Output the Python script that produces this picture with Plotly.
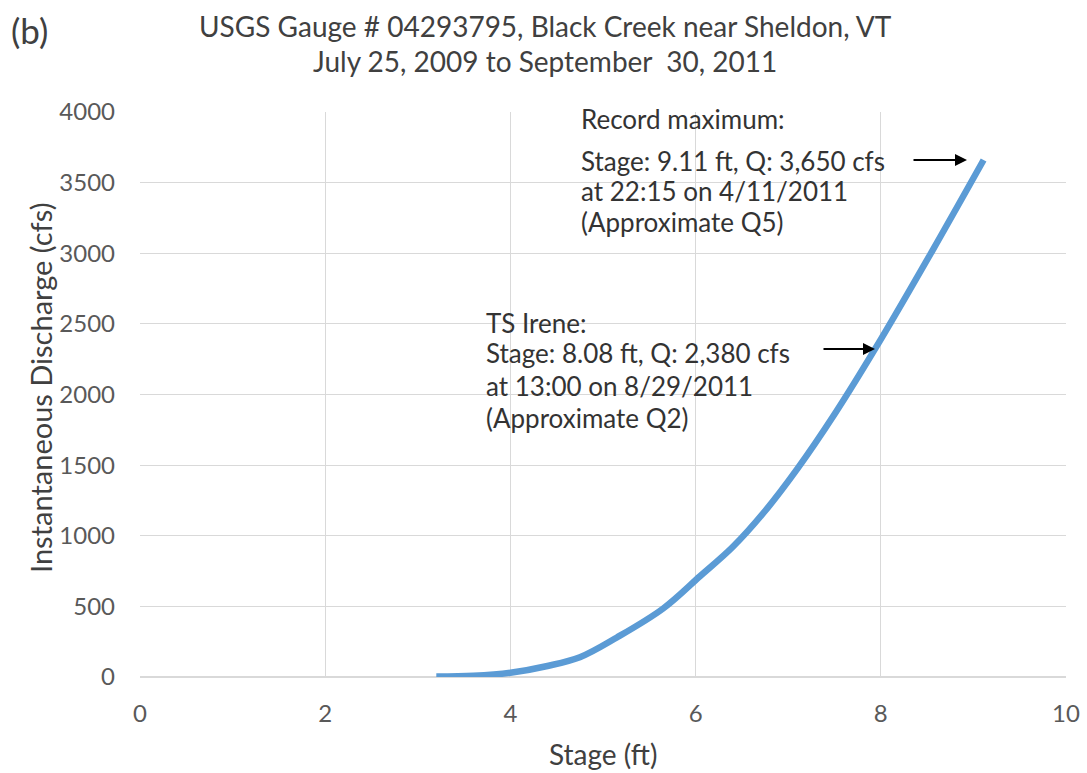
import plotly.graph_objects as go

stage_ft = [3.2, 3.6, 4.0, 4.4, 4.75, 5.15, 5.65, 6.05, 6.4, 6.75, 7.1, 7.5, 8.0, 8.55, 9.11]
discharge_cfs = [3, 8, 30, 78, 140, 280, 485, 715, 920, 1175, 1475, 1860, 2390, 3010, 3660]

panel_label = "(b)"
title_lines = ["USGS Gauge # 04293795, Black Creek near Sheldon, VT",
               "July 25, 2009 to September  30, 2011"]
max_lines = ["Record maximum:", "Stage: 9.11 ft, Q: 3,650 cfs",
             "at 22:15 on 4/11/2011", "(Approximate Q5)"]
irene_lines = ["TS Irene:", "Stage: 8.08 ft, Q: 2,380 cfs",
               "at 13:00 on 8/29/2011", "(Approximate Q2)"]
x_title = "Stage (ft)"
y_title = "Instantaneous Discharge (cfs)"

FONT = "Lato"
TICK = "#595959"
TXT = "#333333"

# plot area in pixels
L, R, T, B = 140, 1066, 112, 677
W, H = 1087, 773


def px(xp):
    return (xp - L) / (R - L)


def py(yp):
    return (B - yp) / (B - T)


fig = go.Figure()
fig.add_trace(go.Scatter(x=stage_ft, y=discharge_cfs, mode="lines",
                         line=dict(color="#5b9bd5", width=6.5, shape="spline", smoothing=1.0),
                         showlegend=False, hoverinfo="x+y"))

ann = []
for t, yp in zip(title_lines, [26, 61]):
    ann.append(dict(text=t, xref="paper", yref="paper", x=px(545), y=py(yp),
                    xanchor="center", yanchor="middle", showarrow=False,
                    font=dict(family=FONT, size=28, color="#404040")))
ann.append(dict(text=panel_label, xref="paper", yref="paper", x=px(9), y=py(30),
                xanchor="left", yanchor="middle", showarrow=False,
                font=dict(family=FONT, size=35, color="#404040")))

for t, yp in zip(max_lines, [119, 161, 191, 222]):
    ann.append(dict(text=t, xref="paper", yref="paper", x=px(579), y=py(yp),
                    xanchor="left", yanchor="middle", showarrow=False,
                    font=dict(family=FONT, size=26, color=TXT)))
for t, yp in zip(irene_lines, [323, 353, 386, 418]):
    ann.append(dict(text=t, xref="paper", yref="paper", x=px(484), y=py(yp),
                    xanchor="left", yanchor="middle", showarrow=False,
                    font=dict(family=FONT, size=26, color=TXT)))

# axis titles
ann.append(dict(text=x_title, xref="paper", yref="paper", x=px(603), y=py(754),
                xanchor="center", yanchor="middle", showarrow=False,
                font=dict(family=FONT, size=28, color="#404040")))
ann.append(dict(text=y_title, xref="paper", yref="paper", x=px(40), y=py(388),
                xanchor="center", yanchor="middle", showarrow=False, textangle=-90,
                font=dict(family=FONT, size=29, color="#404040")))

# arrows
ann.append(dict(x=px(967), y=py(160), ax=-55, ay=0, xref="paper", yref="paper",
                axref="pixel", ayref="pixel", showarrow=True, arrowhead=2, arrowsize=1.2,
                arrowwidth=2, arrowcolor="#000", text=""))
ann.append(dict(x=px(875), y=py(349), ax=-53, ay=0, xref="paper", yref="paper",
                axref="pixel", ayref="pixel", showarrow=True, arrowhead=2, arrowsize=1.2,
                arrowwidth=2, arrowcolor="#000", text=""))

fig.update_layout(
    width=W, height=H,
    margin=dict(l=L, r=W - R, t=T, b=H - B, autoexpand=False),
    plot_bgcolor="white", paper_bgcolor="white",
    annotations=ann,
    font=dict(family=FONT, color=TICK),
    xaxis=dict(range=[0, 10], dtick=2, showgrid=True, gridcolor="#d9d9d9", gridwidth=1,
               zeroline=False, showline=False, ticks="", tickfont=dict(size=24, color=TICK),
               ticklabelstandoff=20),
    yaxis=dict(range=[0, 4000], dtick=500, showgrid=True, gridcolor="#d9d9d9", gridwidth=1,
               zeroline=True, zerolinecolor="#d9d9d9", zerolinewidth=1.5, showline=False,
               ticks="", tickfont=dict(size=24, color=TICK), ticklabelstandoff=24),
)

fig.write_html("out.html", config={"displayModeBar": False},
               post_script="document.body.style.margin='0';document.body.style.overflow='hidden';")
